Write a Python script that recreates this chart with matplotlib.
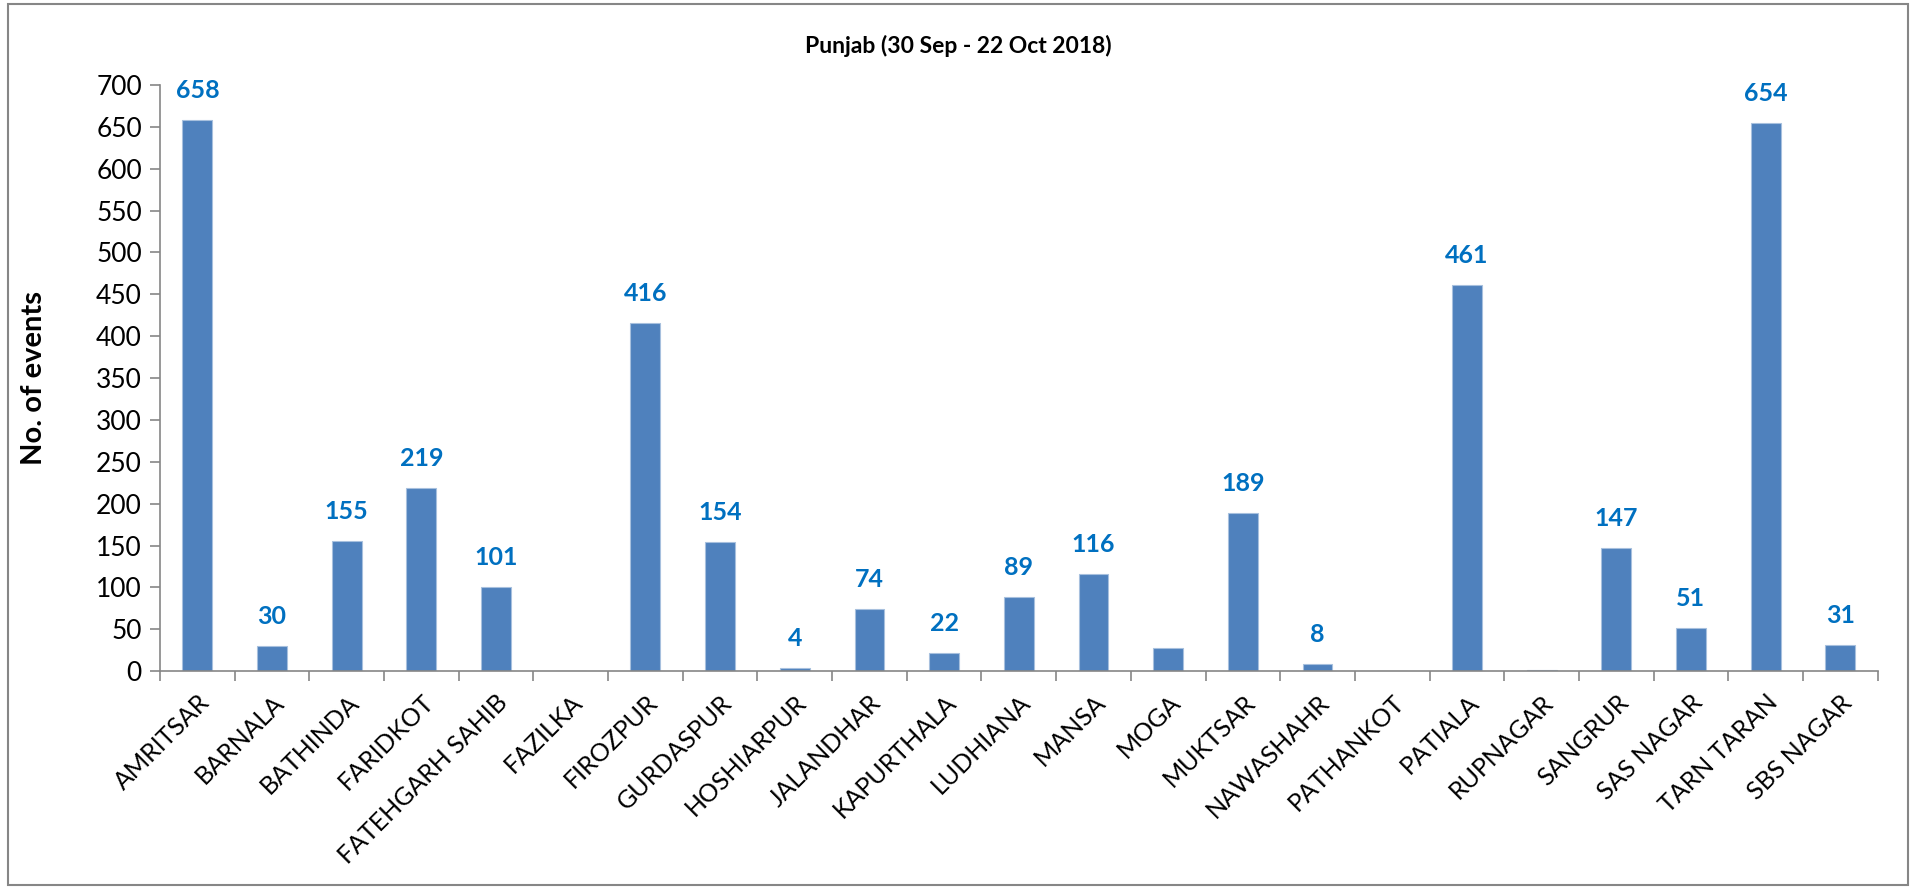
import matplotlib
matplotlib.use("Agg")
import matplotlib.pyplot as plt
from matplotlib.patches import Rectangle

districts = ["AMRITSAR", "BARNALA", "BATHINDA", "FARIDKOT", "FATEHGARH SAHIB",
             "FAZILKA", "FIROZPUR", "GURDASPUR", "HOSHIARPUR", "JALANDHAR",
             "KAPURTHALA", "LUDHIANA", "MANSA", "MOGA", "MUKTSAR", "NAWASHAHR",
             "PATHANKOT", "PATIALA", "RUPNAGAR", "SANGRUR", "SAS NAGAR",
             "TARN TARAN", "SBS NAGAR"]
events = [658, 30, 155, 219, 101, 0, 416, 154, 4, 74, 22, 89, 116, 28, 189, 8,
          0, 461, 1, 147, 51, 654, 31]
# data labels as shown in the chart (some bars carry none)
labels = ["658", "30", "155", "219", "101", "", "416", "154", "4", "74", "22",
          "89", "116", "", "189", "8", "", "461", "", "147", "51", "654", "31"]
yticks = list(range(0, 701, 50))

plt.rcParams["font.family"] = ["Lato", "DejaVu Sans"]

fig = plt.figure(figsize=(19.16, 8.89), dpi=100)
ax = fig.add_axes([0.0835, 0.245, 0.8965, 0.6595])

x = list(range(len(districts)))
ax.bar(x, events, width=0.4, color="#4F81BD", edgecolor="#A7C0DE", linewidth=0.8)

for xi, v, lab in zip(x, events, labels):
    if lab:
        ax.annotate(lab, (xi, v), xytext=(0, 13), textcoords="offset points",
                    ha="center", va="bottom", fontsize=18, fontweight="bold",
                    color="#0070C0")

ax.set_xlim(-0.5, len(districts) - 0.5)
ax.set_ylim(0, 700)
ax.set_yticks(yticks)
ax.tick_params(axis="y", labelsize=19, length=7, width=1.2, color="#868686", pad=6)

ax.set_xticks(x)
ax.set_xticklabels(districts, rotation=45, ha="right", rotation_mode="anchor",
                   fontsize=18)
ax.tick_params(axis="x", which="major", length=0, pad=14)
ax.set_xticks([i - 0.5 for i in range(len(districts) + 1)], minor=True)
ax.tick_params(axis="x", which="minor", length=7, width=1.2, color="#868686")

for s in ["top", "right"]:
    ax.spines[s].set_visible(False)
for s in ["left", "bottom"]:
    ax.spines[s].set_color("#868686")
    ax.spines[s].set_linewidth(1.2)

ax.set_ylabel("No. of events", fontsize=21, fontweight="bold")
ax.yaxis.set_label_coords(-0.066, 0.5)

fig.text(0.5, 0.948, "Punjab (30 Sep - 22 Oct 2018)", ha="center", va="center",
         fontsize=16.5, fontweight="bold")

# outer chart frame
fig.patches.append(Rectangle((8 / 1916, 4 / 889), 1900 / 1916, 881 / 889,
                             transform=fig.transFigure, fill=False,
                             edgecolor="#868686", linewidth=1.5))

fig.savefig("out.png", dpi=100)
